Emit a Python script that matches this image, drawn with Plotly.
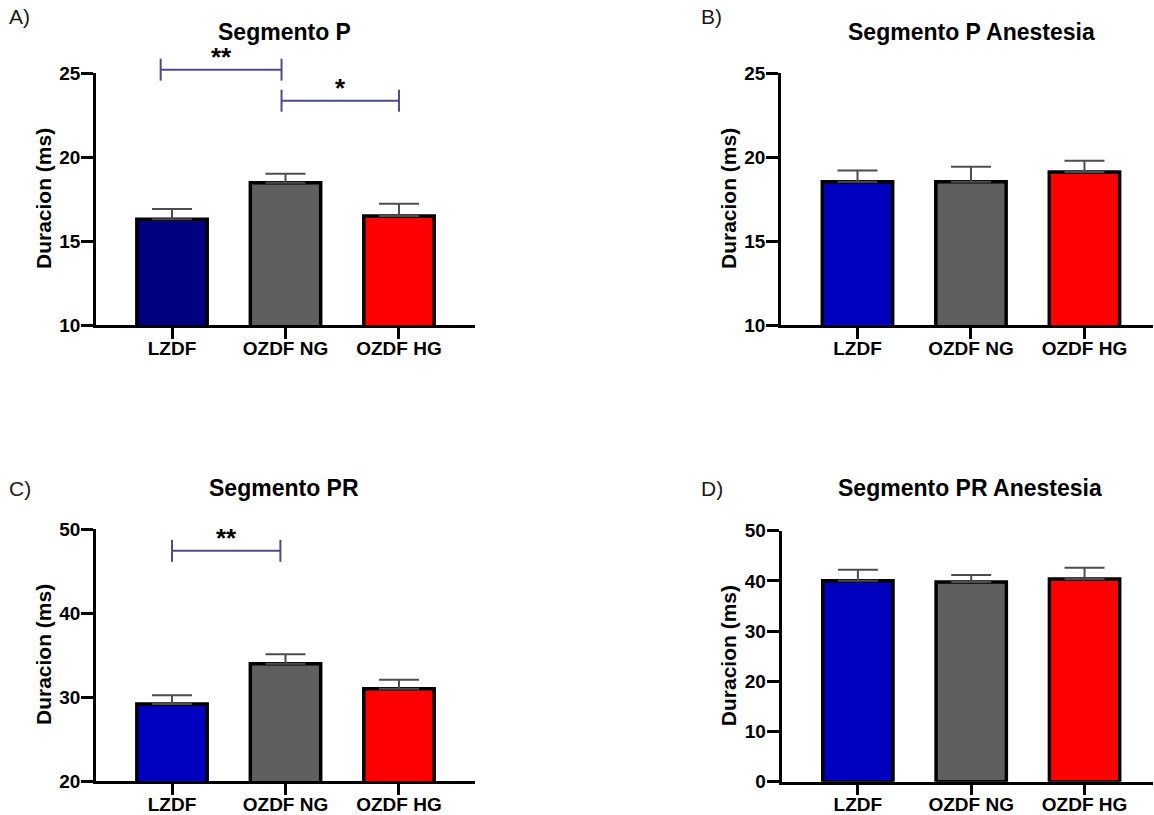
import plotly.graph_objects as go

W, H = 1154, 815

categories = ["LZDF", "OZDF NG", "OZDF HG"]

# Panel data (mean, SEM)
p_mean = [16.30, 18.47, 16.49]
p_err = [0.60, 0.53, 0.73]
pa_mean = [18.53, 18.53, 19.10]
pa_err = [0.67, 0.89, 0.68]
pr_mean = [29.17, 33.97, 30.99]
pr_err = [1.03, 1.11, 1.07]
pra_mean = [40.04, 39.80, 40.40]
pra_err = [2.16, 1.40, 2.20]

titles = ["Segmento P", "Segmento P Anestesia", "Segmento PR", "Segmento PR Anestesia"]
letters = ["A)", "B)", "C)", "D)"]
y_title = "Duracion (ms)"
y_ranges = [[10, 25], [10, 25], [20, 50], [0, 50]]
y_ticks = [[10, 15, 20, 25], [10, 15, 20, 25], [20, 30, 40, 50], [0, 10, 20, 30, 40, 50]]

colors_a = ["#000080", "#5f5f5f", "#ff0000"]
colors_other = ["#0000bf", "#5f5f5f", "#ff0000"]

# significance brackets: (x_start, x_end, y, label)
brackets_a = [(-0.10, 0.965, 25.2, "**"), (0.965, 2.0, 23.35, "*")]
brackets_c = [(0.0, 0.955, 47.4, "**")]

means = [p_mean, pa_mean, pr_mean, pra_mean]
errs = [p_err, pa_err, pr_err, pra_err]
colors = [colors_a, colors_other, colors_other, colors_other]
brackets = [brackets_a, [], brackets_c, []]

# layout geometry (pixels)
x_dom_px = [(96, 475), (781, 1153), (96, 475), (781.5, 1153)]
y_dom_px = [(73, 325), (73, 325), (529, 781), (530.7, 781.7)]
x_ranges = [[-0.67, 2.67], [-0.674, 2.604], [-0.67, 2.67], [-0.674, 2.604]]
title_px = [(284, 32), (971, 32), (284, 488), (970, 488)]
letter_px = [(7, 17), (699, 17), (7, 488), (699, 488)]
ytitle_x_px = [43, 728, 43, 728]

FONT = "Liberation Sans, Arial, sans-serif"
fig = go.Figure()
layout = dict(
    width=W, height=H,
    margin=dict(l=0, r=0, t=0, b=0, autoexpand=False),
    paper_bgcolor="white", plot_bgcolor="white",
    showlegend=False,
    font=dict(family=FONT, color="black"),
)
annotations = []
shapes = []

for i in range(4):
    xa = "x" if i == 0 else f"x{i+1}"
    ya = "y" if i == 0 else f"y{i+1}"
    fig.add_trace(go.Bar(
        x=categories, y=means[i],
        xaxis=xa, yaxis=ya,
        marker=dict(color=colors[i], line=dict(color="black", width=3.5)),
        width=0.62,
        error_y=dict(type="data", array=errs[i], arrayminus=[0] * 3, symmetric=False,
                     color="#4d4d4d", thickness=2, width=20),
    ))
    xk = "xaxis" if i == 0 else f"xaxis{i+1}"
    yk = "yaxis" if i == 0 else f"yaxis{i+1}"
    x0p, x1p = x_dom_px[i]
    ytop, ybot = y_dom_px[i]
    layout[xk] = dict(
        domain=[x0p / W, x1p / W], anchor=ya, type="category", automargin=False,
        range=x_ranges[i], showline=True, linewidth=2.5, linecolor="black",
        ticks="outside", ticklen=11, tickwidth=2.5, tickcolor="black",
        ticklabelstandoff=-7,
        showgrid=False, zeroline=False,
        tickfont=dict(family=FONT, size=19, color="black", weight="bold"),
    )
    layout[yk] = dict(
        domain=[(H - ybot) / H, (H - ytop) / H], anchor=xa, automargin=False,
        range=y_ranges[i], tickvals=y_ticks[i], showline=True, linewidth=2.5,
        linecolor="black", ticks="outside", ticklen=12, tickwidth=2.5,
        tickcolor="black", showgrid=False, zeroline=False,
        ticklabelstandoff=-3,
        tickfont=dict(family=FONT, size=19, color="black", weight="bold"),
    )
    # y-axis title
    annotations.append(dict(
        text=y_title, xref="paper", yref="paper",
        x=ytitle_x_px[i] / W, y=(H - (ytop + ybot) / 2) / H,
        xanchor="center", yanchor="middle", textangle=-90, showarrow=False,
        font=dict(family=FONT, size=21, color="black", weight="bold"),
    ))
    tx, ty = title_px[i]
    annotations.append(dict(
        text=titles[i], xref="paper", yref="paper", x=tx / W, y=(H - ty) / H,
        xanchor="center", yanchor="middle", showarrow=False,
        font=dict(family=FONT, size=23, color="black", weight="bold"),
    ))
    lx, ly = letter_px[i]
    annotations.append(dict(
        text=letters[i], xref="paper", yref="paper", x=lx / W, y=(H - ly) / H,
        xanchor="left", yanchor="middle", showarrow=False,
        font=dict(family=FONT, size=21, color="#1a1a1a"),
    ))
    ymin, ymax = y_ranges[i]
    ydref = f"{ya} domain"
    for (bx0, bx1, by, lab) in brackets[i]:
        yd = (by - ymin) / (ymax - ymin)
        d = 11 / 252
        line = dict(color="#4b4b8c", width=2)
        shapes.append(dict(type="line", xref=xa, yref=ydref, x0=bx0, x1=bx1, y0=yd, y1=yd, line=line))
        shapes.append(dict(type="line", xref=xa, yref=ydref, x0=bx0, x1=bx0, y0=yd - d, y1=yd + d, line=line))
        shapes.append(dict(type="line", xref=xa, yref=ydref, x0=bx1, x1=bx1, y0=yd - d, y1=yd + d, line=line))
        annotations.append(dict(
            text=lab, xref=xa, yref=ydref, x=(bx0 + bx1) / 2, y=yd,
            xanchor="center", yanchor="bottom", yshift=-4, showarrow=False,
            font=dict(family=FONT, size=26, color="black", weight="bold"),
        ))

layout["annotations"] = annotations
layout["shapes"] = shapes
fig.update_layout(**layout)
fig.write_html("out.html")
